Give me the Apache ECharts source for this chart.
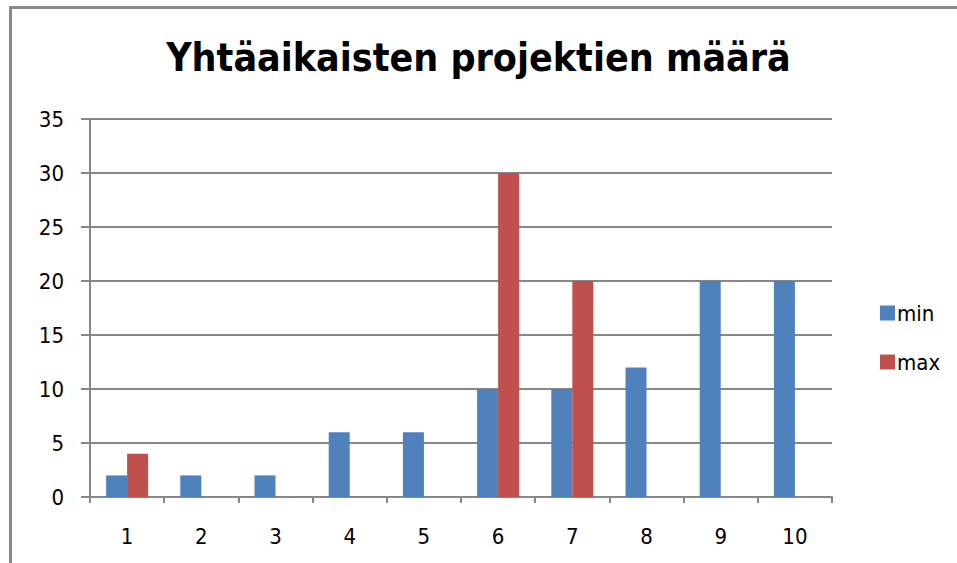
<!DOCTYPE html>
<html>
<head>
<meta charset="utf-8">
<script src="https://cdn.jsdelivr.net/npm/echarts@6/dist/echarts.min.js"></script>
<style>
  html, body { margin: 0; padding: 0; background: #fff; }
  #frame { position: absolute; left: 9px; top: 6px; width: 960px; height: 570px;
           border-left: 3px solid #888; border-top: 3px solid #888; }
  #chart { position: absolute; left: 0; top: 0; width: 957px; height: 563px; }
</style>
</head>
<body>
<div id="frame"></div>
<div id="chart"></div>
<script>
const titleText = "Yhtäaikaisten projektien määrä";
const categories = ["1", "2", "3", "4", "5", "6", "7", "8", "9", "10"];
const minValues = [2, 2, 2, 6, 6, 10, 10, 12, 20, 20];
const maxValues = [4, null, null, null, null, 30, 20, null, null, null];

const font = "'DejaVu Sans Condensed', 'Liberation Sans Narrow', 'Liberation Sans', sans-serif";
const gray = "#878787";

const chart = echarts.init(document.getElementById("chart"), null, { renderer: "svg" });
chart.setOption({
  animation: false,
  title: {
    text: titleText,
    left: "center",
    top: 33,
    textStyle: { fontFamily: font, fontSize: 39, fontWeight: "bold", color: "#000" }
  },
  legend: {
    orient: "vertical",
    left: 875,
    top: 297,
    itemWidth: 15,
    itemHeight: 15,
    itemGap: 27,
    icon: "rect",
    textStyle: { fontFamily: font, fontSize: 22, color: "#000", padding: [0, 0, 0, -3] },
    data: ["min", "max"]
  },
  grid: { left: 90, right: 125, top: 119, bottom: 66 },
  xAxis: {
    type: "category",
    data: categories,
    axisLine: { lineStyle: { color: gray, width: 2 } },
    axisTick: { show: true, length: 6, lineStyle: { color: gray, width: 2 } },
    axisLabel: { fontFamily: font, fontSize: 22, color: "#000", margin: 28 }
  },
  yAxis: {
    type: "value",
    min: 0,
    max: 35,
    interval: 5,
    axisLine: { show: true, lineStyle: { color: gray, width: 2 } },
    axisTick: { show: true, length: 9, lineStyle: { color: gray, width: 2 } },
    axisLabel: { fontFamily: font, fontSize: 22, color: "#000", margin: 26 },
    splitLine: { lineStyle: { color: gray, width: 2 } }
  },
  series: [
    {
      name: "min",
      type: "bar",
      data: minValues,
      barWidth: 21,
      barGap: "0%",
      itemStyle: { color: "#4f81bd" }
    },
    {
      name: "max",
      type: "bar",
      data: maxValues,
      barWidth: 21,
      barGap: "0%",
      itemStyle: { color: "#c0504d" }
    }
  ]
});
</script>
</body>
</html>
